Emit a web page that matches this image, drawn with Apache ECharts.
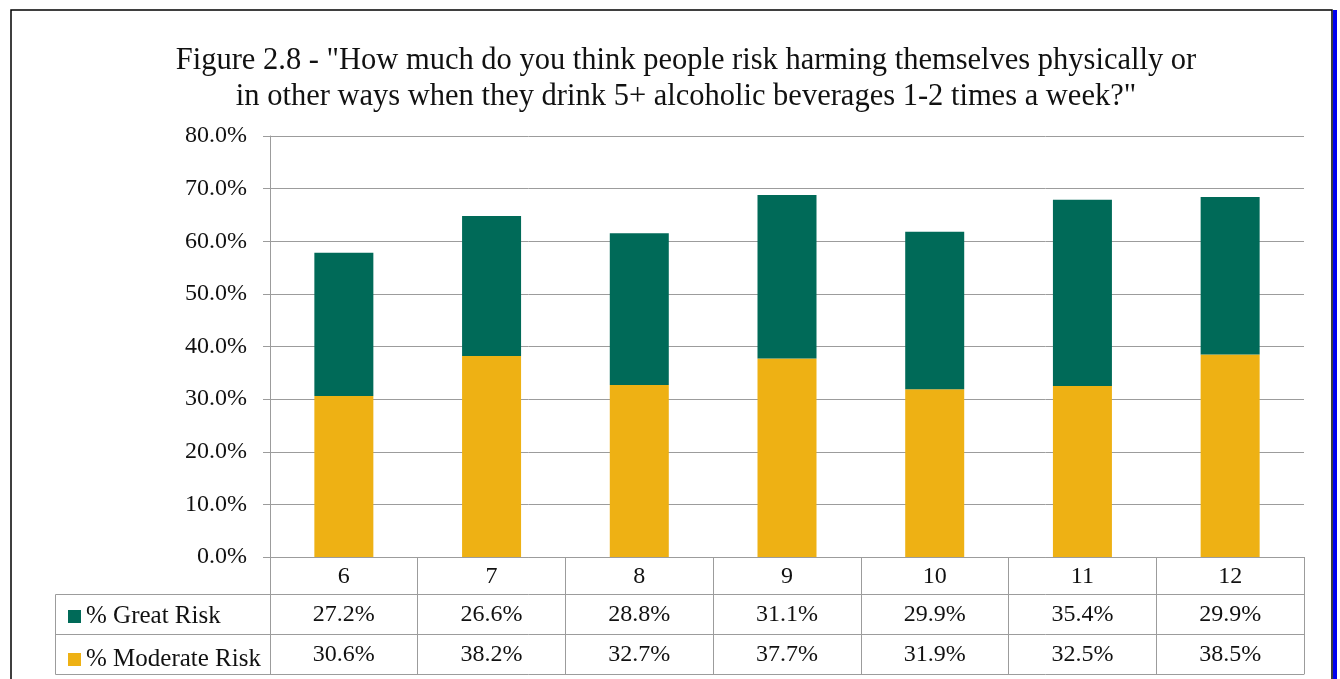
<!DOCTYPE html>
<html><head><meta charset="utf-8">
<script src="https://cdn.jsdelivr.net/npm/echarts@6/dist/echarts.min.js"></script>
<style>html,body{margin:0;padding:0;background:#fff}#c{width:1340px;height:679px}</style>
</head><body><div id="c"></div>
<script>
var categories = ['6','7','8','9','10','11','12'];
var greatRisk = [27.2, 26.6, 28.8, 31.1, 29.9, 35.4, 29.9];
var moderateRisk = [30.6, 38.2, 32.7, 37.7, 31.9, 32.5, 38.5];
var seriesNames = ['% Great Risk', '% Moderate Risk'];
var titleText = 'Figure 2.8 - "How much do you think people risk harming themselves physically or\nin other ways when they drink 5+ alcoholic beverages 1-2 times a week?"';

var FONT = '"Liberation Serif", "DejaVu Serif", serif';
var GRID = '#9c9c9c';
var GREEN = '#006a58';
var YELLOW = '#eeb114';
function pct(v){ return v.toFixed(1) + '%'; }

var chart = echarts.init(document.getElementById('c'), null, {renderer:'canvas'});
chart.setOption({
  backgroundColor: '#fff',
  animation: false,
  title: {
    text: titleText, left: 681, top: 38, textAlign: 'center',
    textStyle: {fontFamily: FONT, fontWeight: 'normal', fontSize: 30.5, color: '#111', lineHeight: 36}
  },
  legend: {
    orient: 'vertical', left: 63, top: 599, itemWidth: 13, itemHeight: 13, itemGap: 18,
    icon: 'rect', selectedMode: false,
    data: seriesNames,
    textStyle: {fontFamily: FONT, fontSize: 25, color: '#111', lineHeight: 22}
  },
  grid: {left: 270, right: 36, top: 136, bottom: 122},
  xAxis: [
    {type: 'category', data: categories, position: 'bottom',
     axisLine: {lineStyle: {color: GRID, width: 1}},
     axisTick: {show: true, length: 37, lineStyle: {color: GRID}},
     axisLabel: {fontFamily: FONT, fontSize: 24, color: '#111', margin: 8}},
    {type: 'category', data: greatRisk.map(pct), position: 'bottom', offset: 37,
     axisLine: {lineStyle: {color: GRID, width: 1}},
     axisTick: {show: true, length: 40, lineStyle: {color: GRID}},
     axisLabel: {fontFamily: FONT, fontSize: 24, color: '#111', margin: 9}},
    {type: 'category', data: moderateRisk.map(pct), position: 'bottom', offset: 77,
     axisLine: {lineStyle: {color: GRID, width: 1}},
     axisTick: {show: true, length: 40, lineStyle: {color: GRID}},
     axisLabel: {fontFamily: FONT, fontSize: 24, color: '#111', margin: 9}},
    {type: 'category', data: categories, position: 'bottom', offset: 117,
     axisLine: {lineStyle: {color: GRID, width: 1}},
     axisTick: {show: false}, axisLabel: {show: false}}
  ],
  yAxis: {
    type: 'value', min: 0, max: 80, interval: 10,
    axisLine: {show: true, lineStyle: {color: GRID}},
    axisTick: {show: true, length: 7, lineStyle: {color: GRID}},
    splitLine: {lineStyle: {color: GRID}},
    axisLabel: {formatter: function(v){return pct(v);}, fontFamily: FONT, fontSize: 24, color: '#111', margin: 23}
  },
  series: [
    {name: seriesNames[1], type: 'bar', stack: 'risk', data: moderateRisk, barWidth: 59,
     itemStyle: {color: YELLOW}, xAxisIndex: 0},
    {name: seriesNames[0], type: 'bar', stack: 'risk', data: greatRisk, barWidth: 59,
     itemStyle: {color: GREEN}, xAxisIndex: 0}
  ],
  graphic: [
    {type: 'rect', shape: {x: 11, y: 10, width: 1321, height: 700}, style: {fill: null, stroke: '#000', lineWidth: 1.5}, silent: true},
    {type: 'rect', shape: {x: 1333, y: 10, width: 4, height: 700}, style: {fill: '#0000ee'}, silent: true},
    {type: 'rect', shape: {x: 55.5, y: 594.5, width: 215, height: 80}, style: {fill: null, stroke: GRID, lineWidth: 1}, silent: true},
    {type: 'line', shape: {x1: 55.5, y1: 634.5, x2: 270, y2: 634.5}, style: {stroke: GRID, lineWidth: 1}, silent: true}
  ]
});
</script></body></html>
